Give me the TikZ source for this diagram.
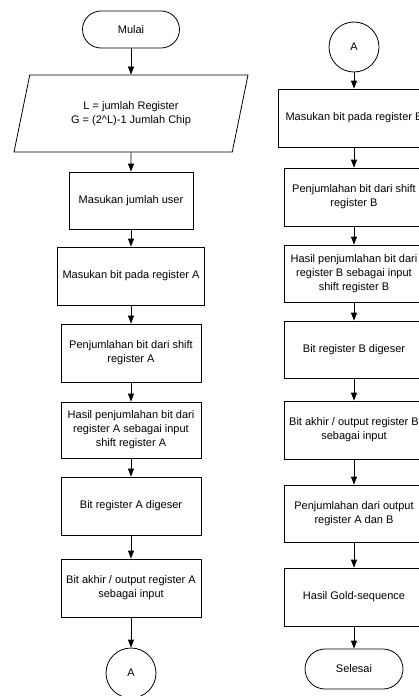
\documentclass[tikz,border=0pt]{standalone}
\usepackage{fontspec}
\setmainfont{Liberation Sans}
\usetikzlibrary{shapes.geometric,arrows.meta}

\tikzstyle{boxfont} = [font=\fontsize{11}{14}\selectfont]
\tikzstyle{process} = [draw,rectangle,line width=0.8pt,align=center,inner sep=2pt,boxfont]
\tikzstyle{terminal} = [draw,rectangle,line width=0.8pt,rounded corners=18.5pt,boxfont]
\tikzstyle{connector} = [draw,circle,line width=0.8pt,minimum size=50pt,inner sep=0pt,boxfont]
\tikzstyle{inputbox} = [draw,trapezium,trapezium left angle=63,trapezium right angle=117,
  trapezium stretches body,line width=0.8pt,align=center,boxfont]
\tikzstyle{flow} = [draw,line width=0.8pt,-{Triangle[width=6pt,length=8pt]}]

\begin{document}
\begin{tikzpicture}[x=1pt,y=-1pt]
    \useasboundingbox (0,0) rectangle (418,696);

    % left column
    \node[terminal, minimum width=97pt, minimum height=37pt] (mulai) at (131,29.5) {Mulai};
    \node[inputbox, minimum width=234pt, minimum height=77pt] (input) at (131,113.5)
      {L = jumlah Register\\G = (2\textasciicircum L)-1 Jumlah Chip};
    \foreach \nodename/\x/\y/\w/\h/\txt in {
      user/131/200.5/124/57/{Masukan jumlah user},
      bitA/131/276/147/58/{Masukan bit pada register A},
      jmlA/131/353/140/58/{Penjumlahan bit dari shift\\register A},
      hasilA/131/430/140/56/{Hasil penjumlahan bit dari\\register A sebagai input\\shift register A},
      geserA/131/506/140/58/{Bit register A digeser},
      akhirA/131/588/140/58/{Bit akhir / output register A\\sebagai input}}
    {
      \node[process, minimum width=\w pt, minimum height=\h pt] (\nodename) at (\x,\y) {\txt};
    }
    \node[connector] (conA) at (131,673) {A};

    % right column
    \node[connector] (conB) at (354,47) {A};
    \foreach \nodename/\x/\y/\w/\h/\txt in {
      bitB/354/118/152/58/{Masukan bit pada register B},
      jmlB/354/197/140/58/{Penjumlahan bit dari shift\\register B},
      hasilB/354/273.5/140/57/{Hasil penjumlahan bit dari\\register B sebagai input\\shift register B},
      geserB/354/349.5/140/57/{Bit register B digeser},
      akhirB/354/430/140/58/{Bit akhir / output register B\\sebagai input},
      outAB/354/513.5/140/57/{Penjumlahan dari output\\register A dan B},
      gold/354/597/140/58/{Hasil Gold-sequence}}
    {
      \node[process, minimum width=\w pt, minimum height=\h pt] (\nodename) at (\x,\y) {\txt};
    }
    \node[terminal, rounded corners=20pt, minimum width=98pt, minimum height=40pt] (selesai) at (354,669) {Selesai};

    %arrows
    \path
    \foreach \startnode/\endnode in {
      mulai/input, input/user, user/bitA, bitA/jmlA, jmlA/hasilA, hasilA/geserA,
      geserA/akhirA, akhirA/conA,
      conB/bitB, bitB/jmlB, jmlB/hasilB, hasilB/geserB, geserB/akhirB,
      akhirB/outAB, outAB/gold, gold/selesai}
    {
      (\startnode) edge[flow] (\endnode)
    };
\end{tikzpicture}
\end{document}
